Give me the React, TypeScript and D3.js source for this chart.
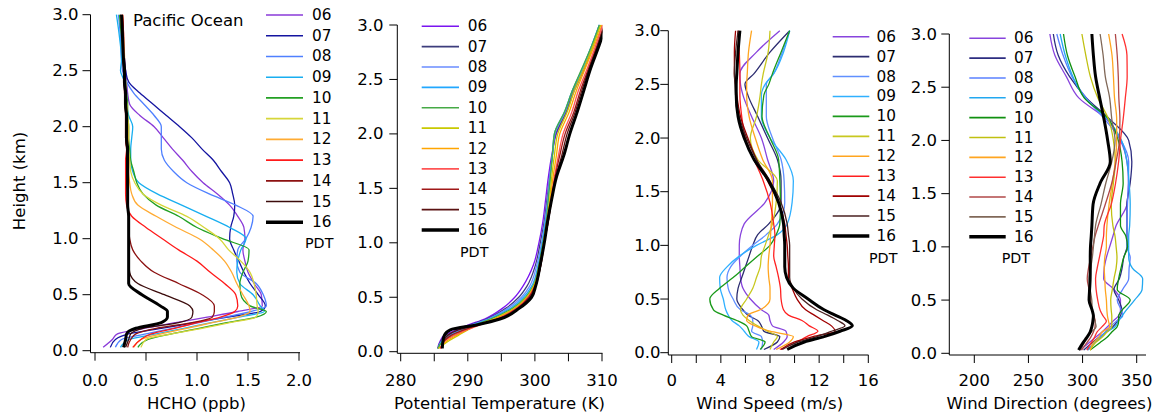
import React from "react";
import * as d3 from "d3";

// ---------- categories ----------
const hours = ["06", "07", "08", "09", "10", "11", "12", "13", "14", "15", "16"];

// ---------- HCHO (ppb) ----------
const hchoHeights = [0.03, 0.1, 0.15, 0.2, 0.25, 0.3, 0.35, 0.4, 0.5, 0.6, 0.7, 0.8, 0.9, 1.0, 1.1, 1.2, 1.3, 1.4, 1.5, 1.6, 1.7, 1.8, 1.9, 2.0, 2.1, 2.2, 2.3, 2.4, 2.5, 2.6, 2.8, 3.0];
const hcho06 = [0.08, 0.17, 0.22, 0.48, 0.79, 1.1, 1.4, 1.64, 1.63, 1.56, 1.5, 1.47, 1.45, 1.47, 1.46, 1.4, 1.32, 1.2, 1.06, 0.95, 0.86, 0.76, 0.67, 0.58, 0.44, 0.34, 0.32, 0.31, 0.3, 0.29, 0.27, 0.25];
const hcho07 = [0.15, 0.2, 0.33, 0.65, 0.98, 1.3, 1.62, 1.67, 1.6, 1.52, 1.46, 1.41, 1.36, 1.32, 1.33, 1.36, 1.37, 1.35, 1.32, 1.24, 1.16, 1.05, 0.95, 0.83, 0.7, 0.57, 0.44, 0.33, 0.3, 0.29, 0.27, 0.25];
const hcho08 = [0.2, 0.26, 0.5, 0.76, 1.02, 1.27, 1.53, 1.68, 1.65, 1.58, 1.42, 1.39, 1.4, 1.48, 1.53, 1.55, 1.38, 1.12, 0.9, 0.77, 0.68, 0.65, 0.65, 0.65, 0.58, 0.48, 0.38, 0.31, 0.27, 0.26, 0.25, 0.23];
const hcho09 = [0.25, 0.33, 0.6, 0.87, 1.14, 1.41, 1.66, 1.62, 1.55, 1.42, 1.39, 1.4, 1.43, 1.48, 1.32, 1.09, 0.85, 0.61, 0.43, 0.37, 0.35, 0.35, 0.36, 0.37, 0.33, 0.31, 0.3, 0.29, 0.25, 0.26, 0.24, 0.21];
const hcho10 = [0.42, 0.52, 0.75, 1.02, 1.29, 1.58, 1.68, 1.52, 1.43, 1.42, 1.45, 1.5, 1.51, 1.25, 1.0, 0.82, 0.6, 0.47, 0.41, 0.38, 0.35, 0.34, 0.33, 0.33, 0.32, 0.32, 0.31, 0.3, 0.29, 0.28, 0.26, 0.24];
const hcho11 = [0.45, 0.5, 0.75, 1.05, 1.32, 1.58, 1.6, 1.59, 1.58, 1.56, 1.52, 1.43, 1.31, 1.22, 1.07, 0.9, 0.65, 0.47, 0.39, 0.35, 0.34, 0.33, 0.33, 0.33, 0.32, 0.31, 0.3, 0.3, 0.29, 0.28, 0.27, 0.25];
const hcho12 = [0.38, 0.45, 0.65, 0.9, 1.15, 1.4, 1.52, 1.51, 1.45, 1.39, 1.34, 1.27, 1.16, 1.02, 0.8, 0.6, 0.42, 0.36, 0.34, 0.33, 0.33, 0.32, 0.32, 0.32, 0.31, 0.31, 0.3, 0.3, 0.29, 0.29, 0.28, 0.27];
const hcho13 = [0.37, 0.45, 0.55, 0.78, 1.0, 1.23, 1.37, 1.4, 1.38, 1.27, 1.13, 1.0, 0.82, 0.66, 0.5, 0.36, 0.31, 0.3, 0.3, 0.3, 0.3, 0.31, 0.3, 0.3, 0.3, 0.3, 0.29, 0.29, 0.28, 0.28, 0.28, 0.27];
const hcho14 = [0.32, 0.35, 0.4, 0.6, 0.95, 1.15, 1.17, 1.17, 1.05, 0.82, 0.58, 0.45, 0.37, 0.34, 0.33, 0.33, 0.32, 0.32, 0.31, 0.31, 0.31, 0.31, 0.3, 0.3, 0.3, 0.3, 0.29, 0.29, 0.28, 0.28, 0.28, 0.27];
const hcho15 = [0.3, 0.33, 0.35, 0.47, 0.82, 0.95, 0.96, 0.93, 0.68, 0.42, 0.34, 0.33, 0.33, 0.33, 0.33, 0.33, 0.32, 0.32, 0.32, 0.31, 0.31, 0.31, 0.3, 0.3, 0.3, 0.29, 0.29, 0.28, 0.28, 0.27, 0.27, 0.26];
const hcho16 = [0.28, 0.3, 0.31, 0.4, 0.65, 0.71, 0.71, 0.64, 0.46, 0.33, 0.33, 0.33, 0.33, 0.33, 0.33, 0.33, 0.32, 0.32, 0.32, 0.32, 0.32, 0.32, 0.31, 0.31, 0.31, 0.3, 0.3, 0.29, 0.29, 0.28, 0.27, 0.26];

// ---------- Potential temperature (K) ----------
const thetaHeights = [0.03, 0.1, 0.15, 0.2, 0.25, 0.3, 0.4, 0.5, 0.6, 0.8, 1.0, 1.2, 1.4, 1.6, 1.8, 2.0, 2.2, 2.4, 2.6, 2.8, 3.0];
const theta06 = [285.5, 285.9, 286.5, 288.3, 290.3, 292.5, 295.2, 297.0, 298.2, 299.8, 300.6, 301.2, 301.6, 302.0, 302.5, 303.2, 304.7, 305.9, 307.4, 308.6, 309.7];
const theta07 = [285.6, 286.0, 286.8, 288.8, 290.6, 292.8, 295.7, 297.6, 298.8, 300.1, 300.8, 301.4, 301.8, 302.2, 302.6, 303.1, 304.6, 305.7, 307.2, 308.5, 309.7];
const theta08 = [285.6, 286.1, 287.0, 289.0, 290.8, 293.0, 296.0, 298.0, 299.2, 300.3, 301.0, 301.5, 301.9, 302.2, 302.6, 303.0, 304.5, 305.6, 307.1, 308.4, 309.6];
const theta09 = [285.6, 286.2, 287.3, 289.3, 291.0, 293.2, 296.4, 298.3, 299.5, 300.5, 301.1, 301.6, 302.0, 302.3, 302.6, 302.9, 304.4, 305.6, 307.1, 308.4, 309.6];
const theta10 = [285.5, 286.4, 287.8, 289.6, 291.2, 293.4, 296.7, 298.6, 299.7, 300.6, 301.2, 301.7, 302.0, 302.3, 302.6, 302.9, 304.4, 305.6, 307.0, 308.4, 309.6];
const theta11 = [285.6, 287.2, 288.6, 290.0, 291.6, 293.8, 297.0, 298.8, 299.8, 300.7, 301.3, 301.8, 302.2, 302.5, 302.9, 303.4, 304.8, 305.9, 307.3, 308.6, 309.8];
const theta12 = [285.8, 286.9, 288.3, 289.9, 291.8, 294.0, 297.2, 298.9, 299.9, 300.8, 301.3, 301.8, 302.3, 302.7, 303.2, 303.7, 305.1, 306.2, 307.5, 308.8, 310.0];
const theta13 = [285.9, 286.6, 287.9, 289.8, 292.0, 294.3, 297.3, 299.0, 300.0, 300.8, 301.4, 301.9, 302.4, 302.9, 303.5, 304.2, 305.5, 306.5, 307.8, 309.0, 310.1];
const theta14 = [286.0, 286.5, 287.5, 289.4, 291.8, 294.4, 297.4, 299.1, 300.0, 300.9, 301.4, 302.0, 302.5, 303.0, 303.7, 304.5, 305.8, 306.8, 308.0, 309.2, 310.3];
const theta15 = [286.1, 286.4, 287.0, 288.6, 291.7, 294.5, 297.6, 299.3, 300.1, 300.9, 301.4, 302.0, 302.5, 303.1, 304.0, 304.8, 306.0, 307.0, 308.1, 309.3, 310.4];
const theta16 = [286.2, 286.3, 286.5, 287.4, 291.6, 294.8, 297.7, 299.5, 300.1, 300.8, 301.4, 301.9, 302.5, 303.2, 304.3, 305.2, 306.3, 307.3, 308.3, 309.5, 310.6];

// ---------- Wind speed (m/s) ----------
const wsHeights = [0.03, 0.1, 0.15, 0.2, 0.25, 0.3, 0.35, 0.4, 0.5, 0.6, 0.7, 0.8, 0.9, 1.0, 1.1, 1.2, 1.4, 1.6, 1.8, 2.0, 2.2, 2.4, 2.5, 2.6, 2.8, 3.0];
const ws06 = [8.3, 9.1, 9.4, 9.3, 8.2, 8.0, 7.9, 7.3, 6.4, 5.8, 5.6, 5.55, 5.5, 5.5, 5.6, 5.9, 7.6, 8.3, 7.8, 7.3, 6.5, 5.8, 5.6, 5.55, 6.9, 8.8];
const ws07 = [7.5, 8.6, 8.8, 7.5, 7.3, 7.0, 6.2, 5.8, 5.3, 5.4, 5.7, 6.0, 6.3, 6.6, 7.0, 7.9, 8.9, 8.9, 8.6, 7.8, 7.0, 6.2, 5.96, 6.7, 8.0, 9.6];
const ws08 = [7.3, 7.4, 7.3, 6.5, 6.6, 6.6, 6.4, 5.6, 5.0, 4.6, 4.5, 4.8, 5.6, 6.6, 7.7, 8.6, 9.2, 9.15, 8.9, 8.2, 7.7, 7.7, 7.7, 8.3, 9.0, 9.6];
const ws09 = [6.9, 7.1, 6.3, 5.9, 5.5, 4.9, 4.6, 4.4, 4.2, 3.95, 3.9, 4.5, 5.5, 6.9, 8.6, 9.4, 9.8, 9.9, 9.3, 8.0, 7.3, 7.3, 7.6, 8.3, 9.1, 9.6];
const ws10 = [7.2, 7.6, 6.5, 6.3, 6.1, 5.3, 4.2, 3.4, 3.1, 3.9, 5.0, 6.0, 7.0, 8.0, 8.5, 8.8, 8.85, 8.8, 8.7, 8.0, 7.35, 7.5, 7.9, 8.2, 8.9, 9.6];
const ws11 = [8.0, 8.3, 8.6, 7.8, 7.0, 6.3, 5.8, 5.6, 6.1, 6.6, 6.9, 7.2, 7.3, 7.6, 7.9, 8.2, 8.5, 8.6, 7.0, 6.4, 6.9, 7.2, 7.3, 7.45, 7.85, 8.0];
const ws12 = [8.5, 9.6, 9.9, 8.0, 6.8, 6.1, 6.2, 7.2, 8.0, 8.0, 7.9, 7.85, 7.9, 8.0, 8.05, 8.1, 8.2, 8.2, 7.4, 6.8, 6.3, 6.1, 6.1, 6.15, 6.25, 6.5];
const ws13 = [8.8, 10.2, 11.0, 11.9, 11.2, 10.6, 9.5, 9.1, 8.9, 8.85, 8.7, 8.5, 8.3, 8.35, 8.4, 8.3, 8.0, 7.45, 6.7, 6.0, 5.7, 5.55, 5.55, 5.55, 5.5, 5.4];
const ws14 = [8.9, 10.0, 11.5, 13.3, 13.0, 12.3, 11.6, 10.9, 10.2, 9.8, 9.5, 9.5, 9.45, 9.4, 9.3, 9.2, 8.7, 7.8, 6.9, 6.2, 5.6, 5.3, 5.2, 5.1, 5.1, 5.2];
const ws15 = [9.0, 10.3, 11.8, 13.0, 14.1, 13.5, 12.7, 11.8, 10.6, 9.9, 9.6, 9.6, 9.6, 9.6, 9.5, 9.4, 8.9, 8.0, 6.9, 6.1, 5.5, 5.2, 5.15, 5.1, 5.2, 5.4];
const ws16 = [9.4, 10.8, 12.4, 13.7, 14.7, 14.2, 13.3, 12.4, 11.1, 9.9, 9.35, 9.2, 9.2, 9.2, 9.15, 9.1, 8.7, 7.9, 6.7, 5.9, 5.4, 5.25, 5.25, 5.3, 5.4, 5.55];

// ---------- Wind direction (degrees) ----------
const wdHeights = [0.03, 0.1, 0.15, 0.2, 0.25, 0.3, 0.35, 0.4, 0.5, 0.6, 0.7, 0.8, 0.9, 1.0, 1.1, 1.2, 1.4, 1.6, 1.8, 2.0, 2.2, 2.4, 2.6, 2.8, 3.0];
const wd06 = [297.8, 306, 312, 318, 323, 328, 333, 335, 335, 329, 319.5, 320, 322, 325, 328, 331, 341, 342.5, 341, 335, 322, 296.5, 285, 274.4, 269.8];
const wd07 = [300.9, 309, 315, 322, 328, 332, 334.9, 336.4, 333.4, 329, 334, 336.5, 338, 341, 341, 341, 341, 344, 345.5, 342.6, 325, 303.5, 288, 277.5, 273];
const wd08 = [304, 311, 316, 321, 325.6, 331, 337, 336, 332, 337, 342.6, 343, 344, 341, 341, 341, 341.5, 342.3, 342.6, 335.5, 320.3, 303.2, 290.2, 282, 276.2];
const wd09 = [305, 311, 317, 322, 330, 333, 336.4, 340, 348, 355, 355.5, 346, 342.6, 342.6, 342.6, 343.5, 344, 343, 341, 336, 323, 302, 291, 284, 279.3];
const wd10 = [307, 316, 322.6, 327, 332, 333.3, 333.3, 336, 344, 332, 333.3, 335.5, 338, 341.5, 340, 335, 335, 337.5, 336.5, 333, 324, 301.5, 293, 286, 282.4];
const wd11 = [307, 312, 318, 322.5, 327, 327, 327, 326.5, 326, 327.5, 329, 331, 331.8, 331, 330, 328, 326.5, 328.5, 330.2, 328.5, 324, 314, 307.2, 303, 299.4];
const wd12 = [307, 310, 315, 318, 325, 324, 323, 322.5, 322, 321, 320.5, 320, 320.5, 322, 322, 322.5, 324.5, 327.5, 330.2, 331.5, 331.5, 329.5, 328.5, 327.2, 324.1];
const wd13 = [304, 308, 311, 313.3, 318, 322, 319, 316.4, 314, 312.5, 312, 313.5, 315.5, 317.5, 319.4, 320, 326.5, 330.5, 333.3, 335, 337.5, 339.5, 341.2, 341, 336.5];
const wd14 = [299, 304, 307.5, 310, 311.5, 311.7, 310.5, 309, 307.5, 306, 304.3, 305.5, 307.5, 309.5, 311.5, 314.5, 321, 327, 331, 334, 334.5, 333.5, 333, 332, 330.3];
const wd15 = [298, 301.5, 304, 308, 312.5, 311.5, 310, 309, 308.5, 307, 306, 307.5, 309, 310, 311, 312, 317, 321.5, 327, 330, 327, 325, 321, 319, 316.2];
const wd16 = [296.3, 300.5, 304, 307, 308.6, 309.5, 310, 309, 306, 306.5, 307, 307.1, 307.1, 307.3, 308, 308.6, 309.7, 316.3, 325.6, 323.2, 319.8, 315.8, 312, 310, 308.6];

// ---------- tick values ----------
const heightTicks = [0, 0.5, 1.0, 1.5, 2.0, 2.5, 3.0];
const hchoTicks = [0, 0.5, 1.0, 1.5, 2.0];
const hchoLabels = [0, 0.5, 1.0, 1.5, 2.0];
const thetaTicks = [280, 285, 290, 295, 300, 305, 310];
const thetaLabels = [280, 290, 300, 310];
const wsTicks = [0, 2, 4, 6, 8, 10, 12, 14, 16];
const wsLabels = [0, 4, 8, 12, 16];
const wdTicks = [200, 250, 300, 350];
const wdLabels = [200, 250, 300, 350];

// ---------- colours ----------
const colors1 = ["#8a3ad8", "#1414a0", "#4f80ff", "#18aef0", "#23a023", "#d6d63a", "#ffab33", "#ff1a1a", "#8c1111", "#3c0c0c", "#000000"];
const colors2 = ["#7a14f0", "#3d3d7c", "#6a8cff", "#22a8ff", "#46aa46", "#c8c800", "#ffa500", "#ff5555", "#a01818", "#5a1212", "#000000"];
const colors3 = ["#8844dd", "#2c2c70", "#6090ff", "#30b0ff", "#1a9a1a", "#c8c820", "#ffa520", "#ff2020", "#a00000", "#4a2020", "#000000"];
const colors4 = ["#8844dd", "#2c2c80", "#5a80ff", "#22a8f0", "#109010", "#c0c010", "#ffa520", "#ff3030", "#b04848", "#806858", "#000000"];

const FONT = "'DejaVu Sans', Verdana, sans-serif";

type PanelCfg = {
  id: string;
  heights: number[];
  profiles: number[][];
  colors: string[];
  xDomain: [number, number];
  xRange: [number, number];
  yRange: [number, number];
  yAxisX: number;
  xAxisY: number;
  xAxisEnd: number;
  yLabelRight: number;
  xTicks: number[];
  xLabels: number[];
  fmt: (v: number) => string;
  title: string;
  titleX: number;
  legend: { x1: number; x2: number; tx: number; y0: number; dy: number; pdtX: number; pdtY: number };
};

const panels: PanelCfg[] = [
  {
    id: "hcho", heights: hchoHeights,
    profiles: [hcho06, hcho07, hcho08, hcho09, hcho10, hcho11, hcho12, hcho13, hcho14, hcho15, hcho16],
    colors: colors1, xDomain: [0, 2], xRange: [95, 299], yRange: [350.7, 14.7],
    yAxisX: 90.5, xAxisY: 352.7, xAxisEnd: 300, yLabelRight: 78.5,
    xTicks: hchoTicks, xLabels: hchoLabels, fmt: d3.format(".1f"),
    title: "HCHO (ppb)", titleX: 196.5,
    legend: { x1: 266, x2: 303, tx: 312, y0: 15, dy: 20.73, pdtX: 305, pdtY: 243.3 },
  },
  {
    id: "theta", heights: thetaHeights,
    profiles: [theta06, theta07, theta08, theta09, theta10, theta11, theta12, theta13, theta14, theta15, theta16],
    colors: colors2, xDomain: [280, 310], xRange: [400.7, 602], yRange: [351.7, 25],
    yAxisX: 397.3, xAxisY: 353.3, xAxisEnd: 602.5, yLabelRight: 383.5,
    xTicks: thetaTicks, xLabels: thetaLabels, fmt: d3.format("d"),
    title: "Potential Temperature (K)", titleX: 499.5,
    legend: { x1: 421.7, x2: 459, tx: 467.7, y0: 26.3, dy: 20.37, pdtX: 460, pdtY: 251.7 },
  },
  {
    id: "ws", heights: wsHeights,
    profiles: [ws06, ws07, ws08, ws09, ws10, ws11, ws12, ws13, ws14, ws15, ws16],
    colors: colors3, xDomain: [0, 16], xRange: [671.7, 868.3], yRange: [352.7, 30.7],
    yAxisX: 668.3, xAxisY: 355, xAxisEnd: 868.5, yLabelRight: 660.5,
    xTicks: wsTicks, xLabels: wsLabels, fmt: d3.format("d"),
    title: "Wind Speed (m/s)", titleX: 769.7,
    legend: { x1: 832.7, x2: 869.3, tx: 876.5, y0: 36.7, dy: 19.93, pdtX: 869, pdtY: 258.3 },
  },
  {
    id: "wd", heights: wdHeights,
    profiles: [wd06, wd07, wd08, wd09, wd10, wd11, wd12, wd13, wd14, wd15, wd16],
    colors: colors4, xDomain: [200, 350], xRange: [974.3, 1136.7], yRange: [353.3, 34],
    yAxisX: 949.3, xAxisY: 355, xAxisEnd: 1146, yLabelRight: 937,
    xTicks: wdTicks, xLabels: wdLabels, fmt: d3.format("d"),
    title: "Wind Direction (degrees)", titleX: 1049.5,
    legend: { x1: 969.3, x2: 1005.7, tx: 1014, y0: 38.3, dy: 19.84, pdtX: 1001.7, pdtY: 257.7 },
  },
];

const TICK = 8;
const FS = 16.5;
const LFS = 15.3;

function Panel({ p }: { p: PanelCfg }) {
  const x = d3.scaleLinear().domain(p.xDomain).range(p.xRange);
  const y = d3.scaleLinear().domain([0, 3]).range(p.yRange);
  const yTop = y(3);
  const line = d3
    .line<[number, number]>()
    .x((d) => x(d[0]))
    .y((d) => y(d[1]))
    .curve(d3.curveMonotoneY);
  const hf = d3.format(".1f");
  const clipId = `clip-${p.id}`;
  const lg = p.legend;
  return (
    <g>
      <defs>
        <clipPath id={clipId}>
          <rect x={p.yAxisX} y={yTop - 1} width={p.xAxisEnd - p.yAxisX} height={p.xAxisY - yTop + 1} />
        </clipPath>
      </defs>
      {/* profiles */}
      <g clipPath={`url(#${clipId})`}>
        {p.profiles.map((vals, i) => {
          const pts: [number, number][] = vals.map((v, k) => [v, p.heights[k]]);
          const isLast = i === p.profiles.length - 1;
          return (
            <path
              key={i}
              d={line(pts) || ""}
              fill="none"
              stroke={p.colors[i]}
              strokeWidth={isLast ? 3 : 1.3}
              strokeLinejoin="round"
            />
          );
        })}
      </g>
      {/* y axis */}
      <line x1={p.yAxisX} x2={p.yAxisX} y1={yTop} y2={p.xAxisY} stroke="#000" strokeWidth={1} />
      {heightTicks.map((t) => (
        <g key={`yt${t}`}>
          <line x1={p.yAxisX - TICK} x2={p.yAxisX} y1={y(t)} y2={y(t)} stroke="#000" strokeWidth={1} />
          <text x={p.yLabelRight} y={y(t)} textAnchor="end" dominantBaseline="central" fontSize={FS} fontFamily={FONT}>
            {hf(t)}
          </text>
        </g>
      ))}
      {/* x axis */}
      <line x1={p.yAxisX} x2={p.xAxisEnd} y1={p.xAxisY} y2={p.xAxisY} stroke="#000" strokeWidth={1} />
      {p.xTicks.map((t) => (
        <line key={`xt${t}`} x1={x(t)} x2={x(t)} y1={p.xAxisY} y2={p.xAxisY + TICK} stroke="#000" strokeWidth={1} />
      ))}
      {p.xLabels.map((t) => (
        <text key={`xl${t}`} x={x(t)} y={386} textAnchor="middle" fontSize={FS} fontFamily={FONT}>
          {p.fmt(t)}
        </text>
      ))}
      <text x={p.titleX} y={408.5} textAnchor="middle" fontSize={FS} fontFamily={FONT}>
        {p.title}
      </text>
      {/* legend */}
      {hours.map((h, i) => {
        const ly = lg.y0 + i * lg.dy;
        const isLast = i === hours.length - 1;
        return (
          <g key={`lg${h}`}>
            <line x1={lg.x1} x2={lg.x2} y1={ly} y2={ly} stroke={p.colors[i]} strokeWidth={isLast ? 3.5 : 1.6} />
            <text x={lg.tx} y={ly} dominantBaseline="central" fontSize={LFS} fontFamily={FONT}>
              {h}
            </text>
          </g>
        );
      })}
      <text x={lg.pdtX} y={lg.pdtY} dominantBaseline="central" fontSize={LFS - 1} fontFamily={FONT}>
        PDT
      </text>
    </g>
  );
}

export default function App() {
  return (
    <svg
      width={1160}
      height={420}
      viewBox="0 0 1160 420"
      style={{ position: "absolute", left: 0, top: 0, background: "#fff" }}
    >
      <rect x={0} y={0} width={1160} height={420} fill="#fff" />
      {panels.map((p) => (
        <Panel key={p.id} p={p} />
      ))}
      <text x={133} y={26} fontSize={FS} fontFamily={FONT}>
        Pacific Ocean
      </text>
      <text transform="translate(25,181) rotate(-90)" textAnchor="middle" fontSize={FS} fontFamily={FONT}>
        Height (km)
      </text>
    </svg>
  );
}
